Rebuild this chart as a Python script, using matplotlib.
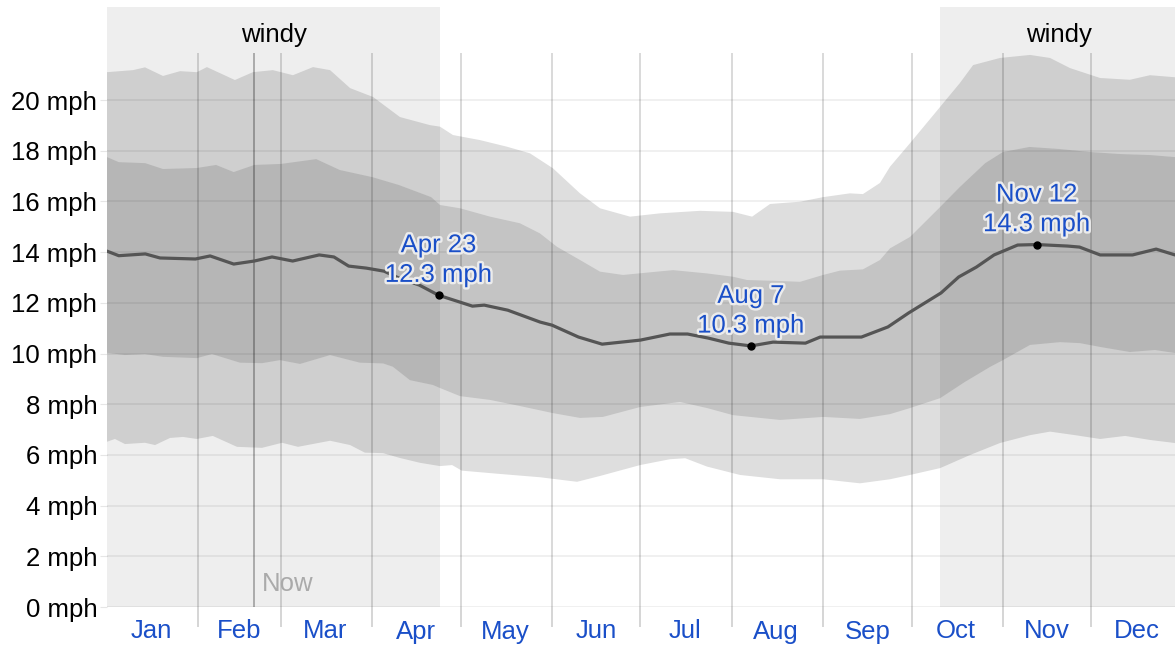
import matplotlib
matplotlib.use("Agg")
import matplotlib.pyplot as plt
import matplotlib.patheffects as pe
import numpy as np

plt.rcParams['font.family'] = ['Liberation Sans', 'DejaVu Sans']
plt.rcParams['font.size'] = 18.5

# day of year (0 = Jan 1) and wind speed in mph
med_days = [0, 4, 13, 18, 30, 35, 43, 50, 56, 63, 72, 77, 82, 88, 94, 99, 106, 112.5,
            124, 128, 136, 147, 151, 160, 168, 181, 191, 197, 204, 211, 218.5, 226, 237,
            242, 256, 265, 272, 283, 289, 295, 301, 309, 315.5, 326, 330, 337, 348, 356, 362.4]
med_mph = [14.04, 13.86, 13.93, 13.77, 13.73, 13.85, 13.53, 13.65, 13.81, 13.65, 13.89, 13.81,
           13.45, 13.37, 13.25, 12.98, 12.70, 12.3, 11.87, 11.91, 11.71, 11.24, 11.12, 10.65,
           10.37, 10.53, 10.77, 10.77, 10.61, 10.41, 10.3, 10.45, 10.41, 10.65, 10.65, 11.05,
           11.6, 12.39, 13.02, 13.41, 13.89, 14.28, 14.3, 14.24, 14.2, 13.89, 13.89, 14.12, 13.89]

p90_days = [0, 8.8, 12.9, 19, 24.8, 30.5, 33.9, 43.4, 49.5, 56.3, 63.1, 69.9, 75.7, 82.5,
            90.3, 99.4, 109.6, 113, 117.4, 126.6, 135.7, 143.5, 151.3, 160.5, 167.3, 177.5,
            187.6, 201.2, 212.4, 218.9, 225, 235.2, 243, 252.1, 256.5, 262.3, 265.7, 272.5,
            282.7, 289.4, 293.9, 303, 313.2, 320, 326.8, 337, 347.1, 353.9, 362.4]
p90_mph = [21.10, 21.18, 21.29, 20.95, 21.14, 21.10, 21.30, 20.79, 21.10, 21.18, 20.98, 21.30,
           21.18, 20.47, 20.12, 19.33, 19.01, 18.95, 18.62, 18.42, 18.16, 17.90, 17.31, 16.32,
           15.73, 15.40, 15.53, 15.63, 15.59, 15.40, 15.90, 15.99, 16.17, 16.32, 16.29, 16.73,
           17.37, 18.3, 19.73, 20.67, 21.38, 21.66, 21.78, 21.66, 21.26, 20.87, 20.8, 20.98, 20.9]

p75_days = [0, 4, 13, 19, 30.5, 37, 43, 50, 59, 71, 79, 90, 99, 110, 113, 119.8, 130, 140.1,
            146.9, 152.7, 160.5, 167.3, 175.1, 186.6, 192.1, 203.6, 212.4, 217.2, 226, 235.2,
            243, 248.7, 256.5, 262.3, 265.7, 272.5, 282.7, 289.4, 298, 304, 313, 323, 333.6,
            343.7, 354, 362.4]
p75_mph = [17.75, 17.55, 17.51, 17.28, 17.32, 17.44, 17.16, 17.44, 17.48, 17.67, 17.24, 16.96,
           16.65, 16.17, 15.86, 15.73, 15.40, 15.14, 14.74, 14.21, 13.69, 13.23, 13.10, 13.23,
           13.29, 13.16, 13.03, 12.90, 12.87, 12.83, 13.10, 13.27, 13.32, 13.69, 14.15, 14.6,
           15.78, 16.57, 17.51, 17.95, 18.15, 18.07, 17.95, 17.87, 17.83, 17.75]

p25_days = [0, 6.1, 12.9, 19, 30.5, 35.6, 45.1, 52.6, 58.7, 65.5, 75.7, 85.8, 93.7, 97,
            102.8, 110.6, 113, 119.8, 130, 140.1, 151.3, 160.5, 168.3, 180.9, 194.4, 203.6,
            212.4, 228.4, 243, 255.5, 265.7, 272.5, 282.7, 291.1, 299.6, 304, 313.2, 323.4,
            330.2, 337, 347.1, 355.6, 362.4]
p25_mph = [10.03, 9.94, 9.98, 9.87, 9.82, 9.98, 9.64, 9.62, 9.74, 9.59, 9.94, 9.64, 9.61, 9.48,
           8.95, 8.76, 8.64, 8.32, 8.17, 7.93, 7.65, 7.46, 7.50, 7.89, 8.09, 7.85, 7.57, 7.38,
           7.50, 7.42, 7.61, 7.85, 8.24, 8.88, 9.47, 9.74, 10.34, 10.45, 10.41, 10.26, 10.06,
           10.14, 10.02]

p10_days = [0, 2.7, 6.1, 12.9, 16.3, 21.4, 25.8, 30.5, 35.9, 44.1, 52.6, 59.4, 64.8, 75.7,
            82.5, 87.5, 93.7, 99.4, 106.2, 113, 117.1, 120.4, 133.3, 146.9, 159.5, 167.3,
            180.9, 191, 196.2, 203.6, 214.8, 228.4, 243, 255.5, 265.7, 272.5, 282.7, 292.9,
            303, 313.2, 320, 328.5, 337, 345.5, 354, 362.4]
p10_mph = [6.52, 6.63, 6.43, 6.48, 6.39, 6.67, 6.71, 6.63, 6.75, 6.32, 6.28, 6.48, 6.32, 6.56,
           6.39, 6.09, 6.07, 5.88, 5.69, 5.56, 5.60, 5.38, 5.25, 5.12, 4.94, 5.17, 5.60, 5.83,
           5.87, 5.54, 5.21, 5.04, 5.04, 4.88, 5.04, 5.21, 5.48, 6.0, 6.47, 6.78, 6.92, 6.78,
           6.63, 6.75, 6.59, 6.47]

month_names = ['Jan', 'Feb', 'Mar', 'Apr', 'May', 'Jun', 'Jul', 'Aug', 'Sep', 'Oct', 'Nov', 'Dec']
month_starts = [0, 31, 59, 90, 120, 151, 181, 212, 243, 273, 304, 334]
month_mids = [15, 45, 74, 105, 135, 166, 196, 227, 258, 288, 319, 349.5]

windy_spans = [(0, 113), (282.7, 370)]
windy_label_days = [56.5, 323]
now_day = 50

marks_day = [112.5, 218.5, 315.5]
marks_mph = [12.3, 10.3, 14.3]
marks_text = ['Apr 23\n12.3 mph', 'Aug 7\n10.3 mph', 'Nov 12\n14.3 mph']

fig = plt.figure(figsize=(11.75, 6.46), dpi=100)
ax = fig.add_axes([107 / 1175, 39 / 646, 1 - 107 / 1175, 599.7 / 646])
ax.set_xlim(0, 362.4)
ax.set_ylim(0, 23.66)

# percentile bands
ax.fill(np.r_[p90_days, p10_days[::-1]], np.r_[p90_mph, p10_mph[::-1]],
        color='#dedede', lw=0, zorder=1)
ax.fill(np.r_[p75_days, p25_days[::-1]], np.r_[p75_mph, p25_mph[::-1]],
        color='#c4c4c4', lw=0, zorder=2)

# grid
for v in range(0, 22, 2):
    ax.axhline(v, color='black', alpha=0.07, lw=1.2, zorder=3)
ax.vlines(month_starts[1:], 0, 21.85, color='black', alpha=0.16, lw=1.3, zorder=3)
ax.vlines([now_day], 0, 21.85, color='black', alpha=0.3, lw=1.3, zorder=3)

# windy seasons
for (a, b), lx in zip(windy_spans, windy_label_days):
    ax.axvspan(a, b, color='black', alpha=0.067, lw=0, zorder=4)
    ax.text(lx, 22.56, 'windy', ha='center', va='center', color='black', zorder=6)

ax.text(now_day + 2.7, 0.9, 'Now', color='#aaaaaa', ha='left', va='center', zorder=6)

# median
ax.plot(med_days, med_mph, color='#555555', lw=2.3, zorder=5, solid_capstyle='round')

halo = [pe.withStroke(linewidth=3.5, foreground='#ececec')]
for d, v, t in zip(marks_day, marks_mph, marks_text):
    ax.plot([d], [v], 'o', color='black', ms=5, zorder=7)
    ax.annotate(t, (d, v), xytext=(0, 6), textcoords='offset points', ha='center',
                va='bottom', color='#1a4fc8', linespacing=1.3, path_effects=halo, zorder=7)

ax.set_yticks(range(0, 22, 2))
ax.set_yticklabels([f'{v} mph' for v in range(0, 22, 2)])
ax.set_xticks(month_mids)
ax.set_xticklabels(month_names, color='#1a4fc8')
ax.set_xticks(month_starts[1:], minor=True)
ax.tick_params(axis='y', length=5, color='#e6e6e6', pad=2)
ax.tick_params(axis='x', which='major', length=0, pad=9)
ax.tick_params(axis='x', which='minor', length=14.5, width=1.3, color='#d2d2d2')
for s in ax.spines.values():
    s.set_visible(False)

fig.savefig('out.png', dpi=100)
